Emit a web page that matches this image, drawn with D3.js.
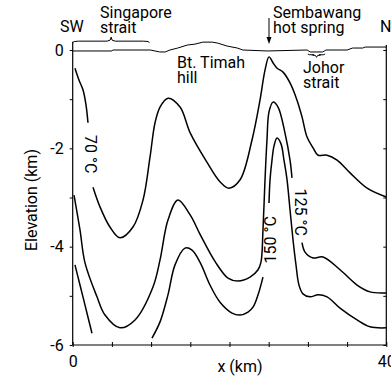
<!DOCTYPE html>
<html>
<head>
<meta charset="utf-8">
<script src="https://cdn.jsdelivr.net/npm/d3@7"></script>
<style>
  body { margin: 0; background: #fff; }
  svg { display: block; }
  text { font-family: Roboto, "Noto Sans", sans-serif; font-size: 16px; fill: #000; }
  .contour { fill: none; stroke: #000; stroke-width: 1.5; }
  .frame { stroke: #000; stroke-width: 1.2; }
</style>
</head>
<body>
<svg width="391" height="377"></svg>
<script>
// distance along profile (km) and elevation (km)
var xTicks = [0, 5, 10, 15, 20, 25, 30, 35, 40];
var xTickLabels = ["0", "", "", "", "", "", "", "", "40"];
var yTicks = [0, -1, -2, -3, -4, -5, -6];
var yTickLabels = ["0", "", "-2", "", "-4", "", "-6"];

// surface topography
var topo = [[0,-0.02],[5.0,-0.02],[5.1,0],[9.9,0],[10.5,-0.02],[11.1,-0.04],[11.8,-0.04],[12.4,0],
  [13.4,0.04],[14.6,0.1],[15.6,0.12],[16.6,0.16],[17.8,0.16],[18.5,0.14],[19.7,0.08],[21.0,0.04],
  [21.7,0],[24.8,-0.02],[29.9,0],[30.3,-0.04],[31.9,-0.04],[32.3,0],[35.0,0],[35.7,0.04],
  [37.0,0.04],[37.3,0.06],[40,0.06]];

// 70 °C isotherm
var c70a = [[0.29,-0.37],[0.8,-0.61],[1.31,-0.81],[1.7,-1.12],[1.95,-1.48]];
var c70b = [[2.59,-2.79],[3.48,-3.19],[4.75,-3.6],[6.03,-3.82],[7.69,-3.6],[8.97,-3.05],[9.86,-2.18],
  [10.5,-1.48],[11.14,-1.16],[12.15,-0.98],[13.69,-1.16],[15.0,-1.69],[17.12,-2.28],[18.79,-2.68],
  [19.93,-2.81],[21.35,-2.64],[22.87,-1.83],[23.89,-1.02],[24.53,-0.41],[25.04,-0.14],[25.55,-0.26],
  [26.07,-0.37],[26.83,-0.45],[27.72,-0.67],[28.61,-1.02],[29.25,-1.36],[29.89,-1.77],[30.66,-1.99],
  [31.29,-2.14],[32.44,-2.14],[33.72,-2.24],[35.38,-2.5],[37.55,-2.81],[40,-2.99]];

// 125 °C isotherm
var c125a = [[0.17,-2.95],[0.93,-3.66],[1.57,-4.33],[3.1,-5.02],[4.12,-5.39],[6.03,-5.65],[7.95,-5.49],
  [10.24,-4.82],[11.14,-4.27],[12.15,-3.46],[13.43,-3.05],[15.0,-3.36],[16.28,-3.76],[18.19,-4.31],
  [19.81,-4.64],[21.09,-4.7],[22.62,-4.62],[23.64,-4.47],[24.02,-4.31],[24.27,-3.66],[24.53,-2.64],
  [24.78,-1.83],[25.04,-1.26],[25.55,-1.06],[26.19,-1.16],[27.08,-1.69],[27.72,-2.24],[27.97,-2.6]];
var c125b = [[29.25,-3.92],[29.63,-4.11],[30.66,-4.23],[31.93,-4.21],[34.1,-4.47],[36.27,-4.78],
  [37.93,-4.92],[40,-4.94]];

// 150 °C isotherm
var c150a = [[0.29,-4.37],[0.93,-4.78],[1.31,-5.02],[1.57,-5.19],[2.46,-5.76]];
var c150b = [[10.11,-5.86],[11.14,-5.53],[12.15,-4.98],[13.05,-4.37],[14.32,-4.03],[15.22,-4.07],
  [16.28,-4.33],[17.51,-4.78],[18.79,-5.13],[20.32,-5.35],[21.35,-5.39],[22.36,-5.33],[23.0,-5.23],
  [23.64,-4.98],[24.27,-4.62]];
var c150c = [[25.04,-3.11],[25.17,-2.64],[25.42,-2.24],[25.68,-1.95],[26.06,-1.79],[26.57,-1.91],
  [26.95,-2.24],[27.34,-2.64],[27.72,-3.25],[28.1,-3.86],[28.48,-4.37],[28.86,-4.78],[29.37,-4.96],
  [30.27,-5.02],[31.29,-4.98],[32.44,-5.02],[34.1,-5.25],[36.27,-5.49],[37.93,-5.63],[40,-5.65]];

var svg = d3.select("svg");

var x = d3.scaleLinear().domain([0, 40]).range([72.7, 386.3]);
var y = d3.scaleLinear().domain([0, -6]).range([50, 345]);

var line = d3.line()
  .x(function (d) { return x(d[0]); })
  .y(function (d) { return y(d[1]); })
  .curve(d3.curveCatmullRom.alpha(0.5));

// frame lines
svg.append("line").attr("class", "frame")
  .attr("x1", x(0)).attr("x2", x(0)).attr("y1", y(0.17)).attr("y2", y(-6));
svg.append("line").attr("class", "frame")
  .attr("x1", x(40)).attr("x2", x(40)).attr("y1", y(0.1)).attr("y2", y(-6));
svg.append("line").attr("class", "frame")
  .attr("x1", x(0)).attr("x2", x(40)).attr("y1", y(-6)).attr("y2", y(-6));

// left axis
var yAxis = svg.append("g")
  .attr("transform", "translate(" + x(0) + ",0)")
  .call(d3.axisLeft(y).tickValues(yTicks).tickSize(3).tickPadding(6)
    .tickFormat(function (d, i) { return yTickLabels[i]; }));
yAxis.select(".domain").remove();
yAxis.selectAll("text").style("font-size", "16px").style("font-family", "Roboto");

// right axis, ticks inside
var yAxisR = svg.append("g")
  .attr("transform", "translate(" + x(40) + ",0)")
  .call(d3.axisLeft(y).tickValues(yTicks).tickSize(3).tickFormat(""));
yAxisR.select(".domain").remove();

// bottom axis
var xAxis = svg.append("g")
  .attr("transform", "translate(0," + y(-6) + ")")
  .call(d3.axisBottom(x).tickValues(xTicks).tickSize(2).tickPadding(9)
    .tickFormat(function (d, i) { return xTickLabels[i]; }));
xAxis.select(".domain").remove();
xAxis.selectAll(".tick line").attr("y1", -3).attr("y2", 2);
xAxis.selectAll("text").style("font-size", "16px").style("font-family", "Roboto");

// topography
svg.append("path").datum(topo)
  .attr("fill", "none").attr("stroke", "#000").attr("stroke-width", 1)
  .attr("d", d3.line().x(function (d) { return x(d[0]); }).y(function (d) { return y(d[1]); }));

// isotherms
[c70a, c70b, c125a, c125b, c150a, c150b, c150c].forEach(function (c) {
  svg.append("path").datum(c).attr("class", "contour").attr("d", line);
});

// isotherm labels
function isoLabel(txt, cx, cy, rot) {
  svg.append("text")
    .attr("transform", "translate(" + x(cx) + "," + y(cy) + ")rotate(" + rot + ")")
    .attr("text-anchor", "middle")
    .attr("dominant-baseline", "central")
    .text(txt);
}
isoLabel("70 °C", 2.3, -2.12, 90);
isoLabel("125 °C", 29.1, -3.3, 90);
isoLabel("150 °C", 25.2, -3.86, -90);

// braces
function brace(x0, x1, yb, h) {
  var a = x(x0), b = x(x1), m = (a + b) / 2, yy = y(yb);
  return "M" + a + "," + (yy + h * 0.3) +
    "Q" + a + "," + yy + " " + (a + 6) + "," + yy +
    "L" + (m - 4) + "," + yy +
    "Q" + m + "," + yy + " " + m + "," + (yy - h * 0.8) +
    "Q" + m + "," + yy + " " + (m + 4) + "," + yy +
    "L" + (b - 6) + "," + yy +
    "Q" + b + "," + yy + " " + b + "," + (yy + h * 0.3);
}
svg.append("path").attr("d", brace(0, 9.8, 0.18, 5))
  .attr("fill", "none").attr("stroke", "#000").attr("stroke-width", 1);
svg.append("path").attr("d", brace(30.0, 32.2, -0.1, -3))
  .attr("fill", "none").attr("stroke", "#000").attr("stroke-width", 1);

// hot spring arrow
var ax = x(25.04);
svg.append("line").attr("x1", ax).attr("x2", ax).attr("y1", 18).attr("y2", 40)
  .attr("stroke", "#000").attr("stroke-width", 1);
svg.append("path").attr("d", "M" + (ax - 2.5) + ",37L" + ax + ",44L" + (ax + 2.5) + ",37Z")
  .attr("fill", "#000");

// place names
function place(lines, px, py) {
  var t = svg.append("text").attr("x", px).attr("y", py);
  lines.forEach(function (s, i) {
    t.append("tspan").attr("x", px).attr("dy", i === 0 ? 0 : 15).text(s);
  });
}
place(["SW"], 60, 32);
place(["Singapore", "strait"], 100, 18);
place(["Bt. Timah", "hill"], 177, 68);
place(["Sembawang", "hot spring"], 273, 18);
place(["N"], 380, 32);
place(["Johor", "strait"], 303, 73);

// axis titles
svg.append("text")
  .attr("transform", "translate(37,200)rotate(-90)")
  .attr("text-anchor", "middle")
  .text("Elevation (km)");
svg.append("text")
  .attr("x", 240).attr("y", 372)
  .attr("text-anchor", "middle")
  .text("x (km)");
</script>
</body>
</html>
